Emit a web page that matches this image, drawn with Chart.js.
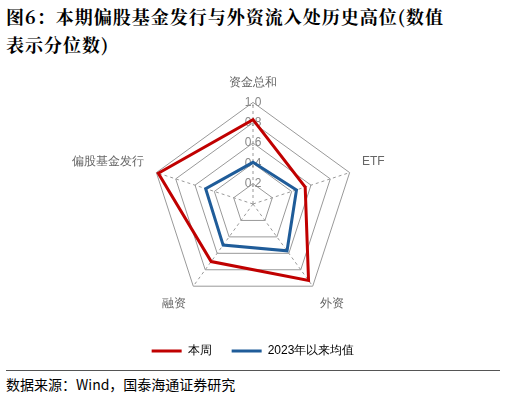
<!DOCTYPE html>
<html><head><meta charset="utf-8">
<script src="https://cdn.jsdelivr.net/npm/chart.js@4/dist/chart.umd.min.js"></script>
<style>
body{margin:0;width:506px;height:401px;background:#fff;font-family:"Noto Sans CJK SC";overflow:hidden}
#title{position:absolute;left:6px;top:2px;width:494px;font-size:18px;font-weight:bold;line-height:28px;color:#000;letter-spacing:1px;font-family:"Noto Serif CJK SC","Noto Sans CJK SC"}
#wrap{position:absolute;left:0;top:62px;width:506px;height:305px}
#src{position:absolute;left:6px;top:370px;width:494px;border-top:1px solid #555;font-size:14px;padding-top:3px}
</style></head><body>
<div id="title">图6：本期偏股基金发行与外资流入处历史高位(数值<br>表示分位数)</div>
<div id="wrap"><canvas id="c" width="506" height="305"></canvas></div>
<div id="src">数据来源：Wind，国泰海通证券研究</div>
<script>
// 数据
const labels = ["资金总和", "ETF", "外资", "融资", "偏股基金发行"];
const thisWeek = [0.83, 0.54, 0.93, 0.70, 0.98];
const avg2023 = [0.41, 0.45, 0.57, 0.50, 0.49];

new Chart(document.getElementById("c"), {
  type: "radar",
  data: {
    labels: labels,
    datasets: [
      { label: "本周", data: thisWeek, borderColor: "#c00000", borderWidth: 3, pointRadius: 0, fill: false },
      { label: "2023年以来均值", data: avg2023, borderColor: "#1f5c99", borderWidth: 3, pointRadius: 0, fill: false }
    ]
  },
  options: {
    responsive: false, animation: false,
    layout: { padding: { top: 4 } },
    plugins: {
      legend: { position: "bottom", labels: { boxWidth: 30, boxHeight: 0, color: "#666", font: { size: 12 }, padding: 20,
        generateLabels: c => c.data.datasets.map((d, i) => ({ text: d.label, strokeStyle: d.borderColor, fillStyle: d.borderColor, lineWidth: 3, datasetIndex: i })) } },
      tooltip: { enabled: false }
    },
    scales: { r: {
      min: 0, max: 1, ticks: { stepSize: 0.2, color: "#888", backdropColor: "rgba(0,0,0,0)", font: { size: 12 }, callback: v => v.toFixed(1) },
      grid: { color: "#999", borderDash: [3, 3] },
      angleLines: { color: "#999", borderDash: [3, 3] },
      pointLabels: { color: "#666", font: { size: 12 } }
    } }
  }
});
</script>
</body></html>
